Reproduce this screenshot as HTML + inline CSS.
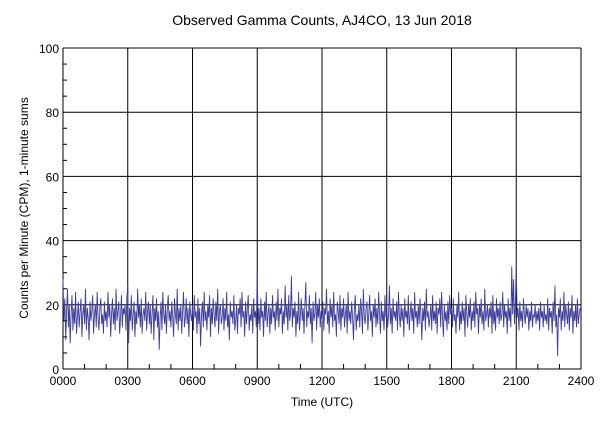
<!DOCTYPE html>
<html><head><meta charset="utf-8"><style>
body{margin:0;background:#fff;}
svg text{font-family:"Liberation Sans",sans-serif;font-size:12px;fill:#000;}
</style></head><body>
<svg id="c" width="600" height="428">
<rect width="600" height="428" fill="#fff"/>
<text x="322" y="25" text-anchor="middle" style="font-size:14px">Observed Gamma Counts, AJ4CO, 13 Jun 2018</text>
<text x="322" y="406" text-anchor="middle">Time (UTC)</text>
<text transform="translate(28,208) rotate(-90)" text-anchor="middle">Counts per Minute (CPM), 1-minute sums</text>
<g id="grid"></g><g id="series"></g><g id="axes"></g>
</svg>
<script>
const xTickLabels=["0000","0300","0600","0900","1200","1500","1800","2100","2400"];
const yTickLabels=[0,20,40,60,80,100];
const counts=[
28,15,22,9,18,25,13,20,8,17,23,12,19,14,24,11,16,21,13,18,22,10,17,20,
14,25,12,19,16,9,21,15,18,23,11,17,20,13,24,16,12,19,22,14,17,11,21,15,
18,13,24,16,20,10,17,22,14,19,12,25,15,18,21,11,16,23,13,19,17,20,12,22,
26,8,19,15,23,12,17,21,10,18,14,25,16,20,13,22,11,17,19,15,24,12,18,21,
14,20,11,17,23,9,19,15,22,13,18,6,16,21,12,24,17,14,20,11,19,23,15,18,
13,21,16,10,22,17,14,25,12,19,15,20,11,18,24,13,16,22,14,19,10,21,17,15,
20,12,23,16,18,11,22,14,19,7,17,21,13,24,15,18,12,20,16,23,10,19,14,22,
17,13,21,15,25,11,18,20,14,16,22,12,19,15,24,13,17,9,21,16,18,14,23,12,
15,20,11,19,17,22,13,24,16,18,10,21,14,19,23,12,17,15,20,11,22,16,18,13,
30,14,19,12,22,16,18,10,21,15,24,13,17,20,11,19,14,23,16,18,12,21,15,25,
13,19,17,22,11,18,14,26,16,20,12,23,15,17,29,13,19,16,21,10,18,14,24,12,
17,22,15,19,11,20,27,13,18,16,23,14,19,8,21,15,17,24,12,20,16,22,13,18,
15,21,12,19,17,25,14,18,11,22,16,20,13,24,15,17,10,21,18,14,23,12,19,16,
22,13,17,20,11,24,15,18,14,21,16,9,19,23,12,17,15,20,13,22,18,11,25,16,
14,19,21,12,17,23,15,18,10,20,16,22,13,19,14,24,17,11,21,15,18,12,23,16,
20,13,17,26,14,19,11,22,16,18,15,21,12,24,17,13,20,15,19,10,22,16,18,14,
23,12,17,21,15,19,11,24,16,18,13,20,14,22,17,9,19,15,21,12,25,16,18,13,
16,20,12,23,15,18,14,21,11,19,17,22,13,24,16,10,20,15,18,12,21,14,23,17,
19,13,22,15,17,11,20,16,24,12,18,14,21,15,19,10,23,17,13,20,16,22,12,18,
15,21,13,24,17,19,11,20,16,22,14,18,12,25,15,17,20,13,19,16,21,11,23,14,
18,12,22,16,19,14,21,15,17,24,13,20,16,18,11,22,15,19,13,32,17,28,14,20,
33,16,19,12,21,15,18,13,22,17,14,20,16,19,12,18,15,21,13,17,16,20,14,18,
15,19,12,21,16,18,13,20,15,17,14,22,12,19,16,18,11,21,15,26,13,17,4,19,
16,22,12,18,15,24,13,20,17,14,21,12,19,16,23,11,18,15,20,13,22,14,17,19
];
const X0=63,X1=581,Y0=369,Y1=48;
const xScale=h=>X0+h/24*(X1-X0);
const yScale=v=>Y0-v/100*(Y0-Y1);
const NS="http://www.w3.org/2000/svg";
function mk(tag,attrs,parent){const e=document.createElementNS(NS,tag);for(const k in attrs)e.setAttribute(k,attrs[k]);parent.appendChild(e);return e;}
const grid=document.getElementById('grid'),axes=document.getElementById('axes'),series=document.getElementById('series');
xTickLabels.forEach((t,i)=>{const x=xScale(i*3);
 const l=mk('line',{x1:x,x2:x,y1:Y1,y2:Y0,stroke:'#000','stroke-width':1},grid);
 
 
 const tx=mk('text',{x:x,y:Y0+16,'text-anchor':'middle'},axes);tx.textContent=t;
 
 
});
yTickLabels.forEach(v=>{const y=yScale(v);
 const l=mk('line',{x1:X0,x2:X1,y1:y,y2:y,stroke:'#000','stroke-width':1},grid);
 
 
 const tx=mk('text',{x:X0-4,y:y+5,'text-anchor':'end'},axes);tx.textContent=v;
 
 
});
for(let h=1;h<24;h++){if(h%3===0)continue;const x=xScale(h);mk('line',{x1:x,x2:x,y1:Y0,y2:Y0-5,stroke:'#000'},axes);}
for(let v=5;v<100;v+=5){if(v%20===0)continue;const y=yScale(v);mk('line',{x1:X0,x2:X0+4,y1:y,y2:y,stroke:'#000'},axes);}
const pts=counts.map((c,i)=>xScale(i/counts.length*24).toFixed(2)+','+yScale(c).toFixed(1)).join(' ');
const pl=mk('polyline',{points:pts,fill:'none',stroke:'#3d3d9c','stroke-width':0.9},series);


</script>
</body></html>
